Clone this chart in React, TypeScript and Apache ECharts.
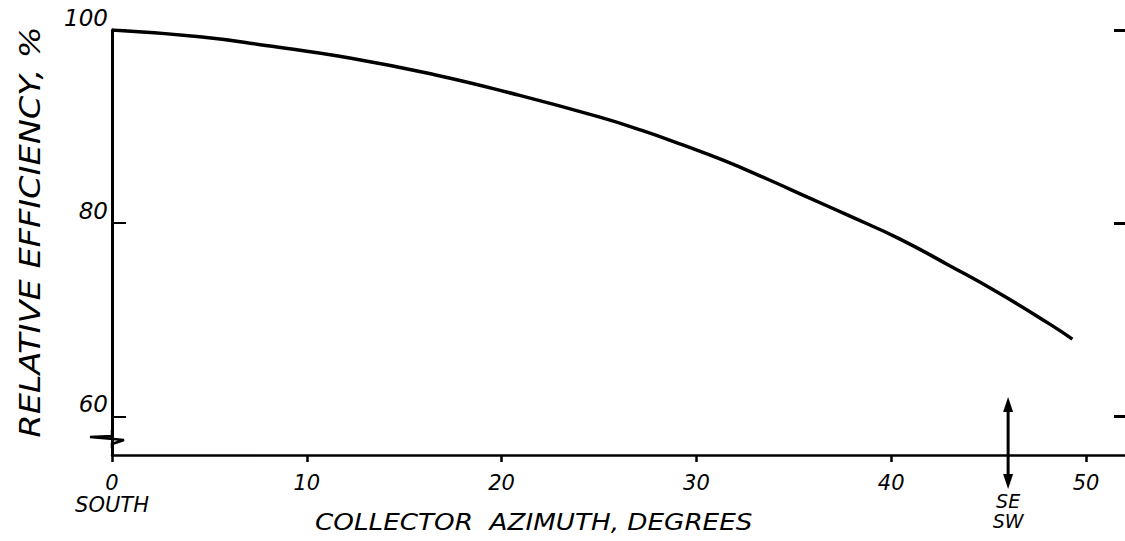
import React, { useEffect, useRef } from "react";
import * as echarts from "echarts";

const azimuthDeg = [0, 4.5, 7.9, 12.2, 16.5, 20.8, 25.0, 27.2, 29.3, 31.4, 33.6, 35.7, 37.8, 40.4, 43.0, 45.5, 48.1, 49.3];
const relativeEfficiency = [100, 99.3, 98.4, 97.1, 95.4, 93.3, 91.0, 89.6, 88.1, 86.5, 84.6, 82.7, 80.8, 78.4, 75.6, 72.8, 69.6, 68.0];
const xTickValues = [0, 10, 20, 30, 40, 50];
const yTickValues = [60, 80, 100];
const seSwAzimuth = 46;
const seSwArrowTop = 62;

const FONT = "DejaVu Sans";

export default function App() {
  const ref = useRef<HTMLDivElement>(null);
  useEffect(() => {
    if (!ref.current) return;
    const chart = echarts.init(ref.current, null, { renderer: "svg" });
    const data = azimuthDeg.map((x, i) => [x, relativeEfficiency[i]]);
    chart.setOption({
      animation: false,
      backgroundColor: "#fff",
      grid: { left: 112, right: 0, top: 30, bottom: 86, containLabel: false },
      xAxis: {
        type: "value",
        min: 0,
        max: 52,
        splitLine: { show: false },
        axisLine: { show: true, lineStyle: { color: "#000", width: 2.5 } },
        axisTick: { show: true, customValues: xTickValues, length: 7, lineStyle: { color: "#000", width: 2.5 } },
        axisLabel: {
          customValues: xTickValues,
          margin: 17,
          color: "#000",
          fontFamily: FONT,
          fontStyle: "italic",
          fontSize: 21,
          lineHeight: 22,
          formatter: (v: number) => (v === 0 ? "0\nSOUTH" : String(v)),
        },
      },
      yAxis: [
        {
          type: "value",
          min: 56,
          max: 100,
          splitLine: { show: false },
          axisLine: { show: true, lineStyle: { color: "#000", width: 3 } },
          axisTick: { show: true, inside: true, customValues: yTickValues, length: 14, lineStyle: { color: "#000", width: 2 } },
          axisLabel: {
            customValues: yTickValues,
            margin: 4,
            color: "#000",
            fontFamily: FONT,
            fontStyle: "italic",
            fontSize: 23,
            verticalAlign: "bottom",
            lineHeight: 24,
          },
        },
        {
          type: "value",
          position: "right",
          min: 56,
          max: 100,
          splitLine: { show: false },
          axisLine: { show: false },
          axisTick: { show: true, inside: true, customValues: yTickValues, length: 11, lineStyle: { color: "#000", width: 3 } },
          axisLabel: { show: false },
        },
      ],
      series: [
        {
          type: "line",
          data,
          smooth: true,
          showSymbol: false,
          lineStyle: { color: "#000", width: 3.5 },
        },
      ],
    });

    const top = chart.convertToPixel({ xAxisIndex: 0, yAxisIndex: 0 }, [seSwAzimuth, seSwArrowTop]);
    const base = chart.convertToPixel({ xAxisIndex: 0, yAxisIndex: 0 }, [seSwAzimuth, 56]);
    const ax = top[0];
    const ty = top[1];
    const by = base[1] + 34;
    chart.setOption({
      graphic: [
        {
          type: "text",
          x: 30,
          y: 232,
          rotation: Math.PI / 2,
          scaleX: 1.2,
          style: {
            text: "RELATIVE EFFICIENCY, %",
            fill: "#000",
            font: `italic 28px "${FONT}"`,
            align: "center",
            verticalAlign: "middle",
          },
        },
        {
          type: "text",
          x: 315,
          y: 511,
          scaleX: 1.14,
          style: {
            text: "COLLECTOR  AZIMUTH, DEGREES",
            fill: "#000",
            font: `italic 23px "${FONT}"`,
            align: "left",
            verticalAlign: "top",
          },
        },
        {
          type: "line",
          shape: { x1: ax, y1: ty + 8, x2: ax, y2: by - 8 },
          style: { stroke: "#000", lineWidth: 3 },
        },
        {
          type: "polygon",
          shape: { points: [[ax, ty], [ax - 5, ty + 15], [ax + 5, ty + 15]] },
          style: { fill: "#000" },
        },
        {
          type: "polygon",
          shape: { points: [[ax, by], [ax - 5, by - 15], [ax + 5, by - 15]] },
          style: { fill: "#000" },
        },
        {
          type: "text",
          x: ax,
          y: by + 2,
          style: {
            text: "SE",
            fill: "#000",
            font: `italic 19px "${FONT}"`,
            lineHeight: 19,
            align: "center",
            verticalAlign: "top",
          },
        },
        {
          type: "text",
          x: ax,
          y: by + 22,
          style: {
            text: "SW",
            fill: "#000",
            font: `italic 19px "${FONT}"`,
            lineHeight: 19,
            align: "center",
            verticalAlign: "top",
          },
        },
        {
          type: "polyline",
          shape: { points: [[112, 430], [112, 436], [90, 437], [113, 439], [124, 440], [112, 444], [112, 448]] },
          style: { stroke: "#000", lineWidth: 2.5, fill: null },
        },
      ],
    });
    return () => chart.dispose();
  }, []);
  return <div ref={ref} style={{ position: "fixed", left: 0, top: 0, width: 1125, height: 541 }} />;
}
